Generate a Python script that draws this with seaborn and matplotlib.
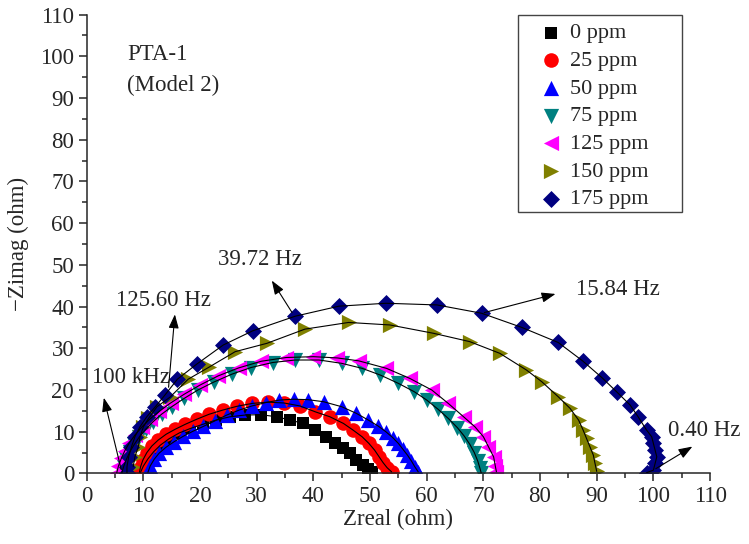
import matplotlib
matplotlib.use("Agg")
import matplotlib.pyplot as plt
from matplotlib.ticker import MultipleLocator
from matplotlib.patches import Rectangle
import numpy as np
import pandas as pd
import seaborn as sns

# Nyquist data (Zreal, -Zimag) in ohm
labels = ["0 ppm", "25 ppm", "50 ppm", "75 ppm", "125 ppm", "150 ppm", "175 ppm"]

zr_0 = [9.5, 10.0, 10.8, 11.8, 13.0, 14.5, 16.3, 18.3, 20.5, 22.8, 25.3, 27.9, 30.7, 33.5,
        35.9, 38.2, 40.3, 42.3, 43.8, 45.3, 46.5, 47.6, 48.8, 49.7, 50.3]
zi_0 = [0.3, 1.8, 3.5, 5.2, 6.8, 8.3, 9.7, 10.8, 11.8, 12.8, 13.6, 14.0, 14.1, 13.6,
        12.8, 12.0, 10.4, 8.8, 7.2, 6.0, 4.8, 3.2, 2.0, 1.0, 0.4]

zr_25 = [9.3, 9.5, 9.9, 10.6, 11.5, 12.6, 14.0, 15.6, 17.4, 19.4, 21.6, 24.0, 26.5, 29.2,
         32.0, 34.8, 37.6, 40.3, 42.9, 45.3, 47.0, 48.6, 49.8, 50.8, 51.6, 52.3, 53.0, 53.8]
zi_25 = [0.3, 1.6, 3.2, 5.0, 6.6, 8.0, 9.4, 10.6, 11.8, 13.0, 14.2, 15.2, 16.1, 16.8,
         17.1, 16.9, 16.2, 14.8, 13.6, 12.0, 10.4, 8.8, 7.2, 5.6, 4.0, 2.6, 1.4, 0.4]

zr_50 = [10.8, 11.2, 11.9, 12.8, 14.0, 15.4, 17.0, 18.7, 20.6, 22.6, 24.7, 26.9, 29.2, 31.6,
         34.0, 36.5, 39.0, 41.8, 45.0, 47.6, 49.7, 51.4, 52.8, 54.0, 55.0, 55.8, 56.6, 57.3,
         57.9, 58.5]
zi_50 = [0.3, 1.8, 3.4, 4.9, 6.3, 7.6, 8.9, 10.1, 11.3, 12.6, 14.0, 15.2, 16.2, 17.0,
         17.6, 17.8, 17.7, 17.2, 16.0, 14.4, 12.8, 11.4, 10.0, 8.6, 7.2, 5.8, 4.4, 3.0,
         1.6, 0.4]

zr_75 = [6.2, 6.5, 7.0, 7.6, 8.4, 9.3, 10.4, 11.7, 13.2, 15.0, 17.2, 19.6, 22.4, 25.6,
         29.0, 32.8, 36.8, 41.0, 45.0, 48.6, 51.8, 55.0, 57.8, 60.0, 62.0, 63.8, 65.4, 66.6,
         67.6, 68.4, 69.0, 69.4, 69.6]
zi_75 = [0.2, 1.6, 3.4, 5.2, 7.0, 8.8, 10.6, 12.4, 14.2, 16.0, 18.0, 20.0, 21.9, 23.8,
         25.4, 26.6, 27.2, 27.2, 26.4, 25.2, 23.6, 21.6, 19.6, 17.6, 15.4, 13.2, 11.0, 9.0,
         7.0, 5.0, 3.0, 1.2, 0.2]

zr_125 = [5.3, 5.6, 6.1, 6.7, 7.5, 8.5, 9.7, 11.1, 12.8, 14.8, 17.2, 20.0, 23.2, 26.8,
          30.8, 35.2, 40.0, 44.2, 48.0, 52.9, 57.0, 60.9, 63.8, 66.5, 68.5, 70.0, 70.9, 71.8,
          72.1, 72.3]
zi_125 = [0.2, 1.8, 3.6, 5.4, 7.3, 9.2, 11.1, 13.0, 14.9, 16.9, 19.0, 21.2, 23.4, 25.3,
          26.9, 27.8, 28.0, 27.7, 27.0, 25.2, 22.8, 20.0, 16.8, 13.6, 11.2, 8.8, 6.4, 4.0,
          1.8, 0.4]

zr_150 = [8.2, 8.5, 9.1, 9.4, 10.0, 10.9, 12.4, 14.7, 17.9, 21.6, 26.2, 31.8, 38.5, 46.2,
          53.5, 61.2, 67.6, 72.9, 77.6, 80.3, 83.2, 85.3, 86.8, 87.6, 88.2, 88.8, 89.4, 89.7,
          90.0]
zi_150 = [1.6, 4.0, 6.4, 8.8, 11.2, 13.2, 16.0, 18.3, 22.6, 25.5, 29.2, 31.2, 34.6, 36.2,
          35.6, 33.6, 31.6, 28.8, 24.8, 22.0, 18.4, 15.6, 12.8, 10.4, 8.4, 6.4, 4.4, 2.4,
          0.5]

zr_175 = [7.1, 7.1, 7.4, 7.9, 8.5, 9.4, 10.6, 12.1, 13.8, 16.0, 19.4, 24.1, 29.3, 36.8,
          44.5, 52.8, 61.8, 69.7, 76.8, 83.2, 87.5, 90.9, 93.5, 95.9, 97.3, 98.8, 99.7, 100.0,
          100.3, 100.6, 100.3, 100.0, 98.8]
zi_175 = [0.1, 1.6, 4.0, 6.4, 8.8, 11.2, 13.6, 16.0, 18.8, 22.6, 26.2, 30.8, 34.2, 37.7,
          40.1, 40.8, 40.4, 38.4, 35.0, 31.4, 27.0, 23.0, 19.6, 16.4, 13.6, 10.4, 8.8, 7.2,
          5.6, 4.0, 2.4, 0.8, 0.2]

zreal = [zr_0, zr_25, zr_50, zr_75, zr_125, zr_150, zr_175]
zimag = [zi_0, zi_25, zi_50, zi_75, zi_125, zi_150, zi_175]

colors = ["#000000", "#ff0000", "#0000ff", "#008080", "#ff00ff", "#808000", "#000080"]
markers = ["s", "o", "^", "v", "<", ">", "D"]
msizes = [85, 110, 120, 120, 120, 120, 75]

sns.set_style("ticks")
plt.rcParams["font.family"] = ["Liberation Serif", "DejaVu Serif"]
FS = 16.5

fig = plt.figure(figsize=(7.49, 5.44), dpi=100)
ax = fig.add_axes([0.1158, 0.1296, 0.8322, 0.8437])

for lab, xr, yi, c, m, s in zip(labels, zreal, zimag, colors, markers, msizes):
    d = pd.DataFrame({"Zreal": xr, "Zimag": yi})
    sns.scatterplot(data=d, x="Zreal", y="Zimag", color=c, marker=m, s=s,
                    linewidth=0, label=lab, ax=ax, zorder=2)
    # fitted curve (thin black)
    sns.lineplot(data=d, x="Zreal", y="Zimag", estimator=None, sort=False,
                 color="black", lw=0.8, ax=ax, zorder=3)

ax.set_xlim(0, 110)
ax.set_ylim(0, 110)
ax.xaxis.set_major_locator(MultipleLocator(10))
ax.xaxis.set_minor_locator(MultipleLocator(5))
ax.yaxis.set_major_locator(MultipleLocator(10))
ax.yaxis.set_minor_locator(MultipleLocator(5))
ax.tick_params(which="major", direction="out", length=6, width=1.1, labelsize=FS, pad=3)
ax.tick_params(which="minor", direction="out", length=3.5, width=1.1)
for side in ["top", "right"]:
    ax.spines[side].set_visible(False)
for side in ["left", "bottom"]:
    ax.spines[side].set_linewidth(1.1)

ax.set_xlabel("Zreal (ohm)", fontsize=FS, labelpad=1)
ax.set_ylabel("\u2212Zimag (ohm)", fontsize=FS, labelpad=8)

handles, lbls = ax.get_legend_handles_labels()
ax.legend(handles[:7], lbls[:7], loc="upper left", bbox_to_anchor=(0.727, 0.982),
          borderaxespad=0, frameon=False, fontsize=FS - 0.5, handletextpad=0.35,
          labelspacing=0.32, borderpad=0, handlelength=1.0)
ax.add_patch(Rectangle((0.692, 0.570), 0.263, 0.429, transform=ax.transAxes,
                       fill=False, edgecolor="#444444", lw=1.0, clip_on=False, zorder=5))

ax.text(7.1, 100.3, "PTA-1", fontsize=FS, va="center")
ax.text(7.1, 93.1, "(Model 2)", fontsize=FS, va="center")

arrow = dict(arrowstyle="-|>,head_length=0.6,head_width=0.22", color="black", lw=0.8,
             mutation_scale=14)
ax.annotate("", xy=(2.9, 18.8), xytext=(6.2, 0.3), arrowprops=arrow)
ax.text(1.0, 23.0, "100 kHz", fontsize=FS, va="center")
ax.annotate("", xy=(15.6, 38.8), xytext=(14.4, 20.0), arrowprops=arrow)
ax.text(5.2, 41.5, "125.60 Hz", fontsize=FS, va="center")
ax.annotate("", xy=(32.4, 46.8), xytext=(36.5, 38.0), arrowprops=arrow)
ax.text(23.2, 51.4, "39.72 Hz", fontsize=FS, va="center")
ax.annotate("", xy=(83.2, 43.2), xytext=(69.7, 38.4), arrowprops=arrow)
ax.text(86.3, 44.2, "15.84 Hz", fontsize=FS, va="center")
ax.annotate("", xy=(107.3, 6.8), xytext=(100.0, 0.8), arrowprops=arrow)
ax.text(102.6, 10.4, "0.40 Hz", fontsize=FS, va="center")

fig.savefig("out.png", dpi=100)
